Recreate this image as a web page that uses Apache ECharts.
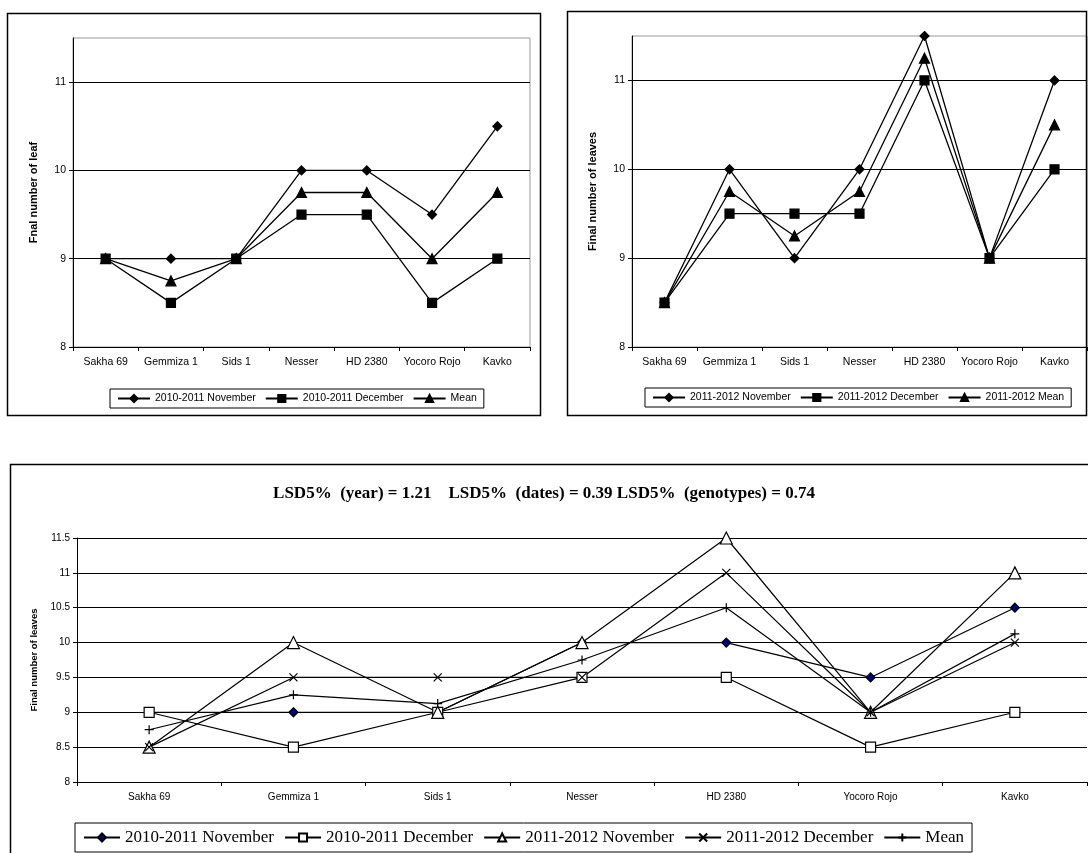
<!DOCTYPE html>
<html>
<head>
<meta charset="utf-8">
<script src="https://cdn.jsdelivr.net/npm/echarts@6/dist/echarts.min.js"></script>
<style>
html,body{margin:0;padding:0;background:#fff;}
#wrap{position:relative;width:1088px;height:853px;overflow:hidden;background:#fff;}
.c{position:absolute;left:0;top:0;width:1088px;height:853px;}
</style>
</head>
<body>
<div id="wrap">
  <div class="c" id="c1"></div>
  <div class="c" id="c2"></div>
  <div class="c" id="c3"></div>
</div>
<script>
// ---- data ----
const categories = ['Sakha 69', 'Gemmiza 1', 'Sids 1', 'Nesser', 'HD 2380', 'Yocoro Rojo', 'Kavko'];
const nov1011 = [9, 9, 9, 10, 10, 9.5, 10.5];
const dec1011 = [9, 8.5, 9, 9.5, 9.5, 8.5, 9];
const mean1011 = [9, 8.75, 9, 9.75, 9.75, 9, 9.75];
const nov1112 = [8.5, 10, 9, 10, 11.5, 9, 11];
const dec1112 = [8.5, 9.5, 9.5, 9.5, 11, 9, 10];
const mean1112 = [8.5, 9.75, 9.25, 9.75, 11.25, 9, 10.5];
const meanAll = [8.75, 9.25, 9.125, 9.75, 10.5, 9, 10.125];
const titleTopLeftY = 'Fnal number of leaf';
const titleY = 'Final number of leaves';
const lsdTitle = 'LSD5%  (year) = 1.21    LSD5%  (dates) = 0.39 LSD5%  (genotypes) = 0.74';

const SANS = '"Liberation Sans", Arial, sans-serif';
const SERIF = '"Liberation Serif", "Times New Roman", serif';
const PLUS = 'path://M0,5L10,5M5,0L5,10';
const CROSS = 'path://M0,0L10,10M0,10L10,0';

function xAxisCfg(fs) {
  return {
    type: 'category', data: categories, boundaryGap: true,
    axisLine: {lineStyle: {color: '#000', width: 1}},
    axisTick: {show: true, length: 4, lineStyle: {color: '#000'}},
    axisLabel: {color: '#000', fontSize: fs, fontFamily: SANS, margin: 10, interval: 0}
  };
}
function lineSeries(name, data, symbol, size, fill, border, lw) {
  return {
    type: 'line', name: name, data: data, symbol: symbol, symbolSize: size,
    showAllSymbol: true,
    lineStyle: {color: '#000', width: lw || 1.3},
    itemStyle: {color: fill, borderColor: border || fill, borderWidth: 1.2},
    emphasis: {disabled: true}, animation: false, z: 3
  };
}
function topYAxis(name, gap) {
  return {
    type: 'value', min: 8, max: 11.5, interval: 1,
    name: name, nameLocation: 'middle', nameGap: gap,
    nameTextStyle: {color: '#000', fontSize: 11, fontWeight: 'bold', fontFamily: SANS},
    axisLine: {show: true, lineStyle: {color: '#000'}},
    axisTick: {show: true, length: 4, lineStyle: {color: '#000'}},
    axisLabel: {color: '#000', fontSize: 10.5, fontFamily: SANS, showMaxLabel: false, margin: 7},
    splitLine: {show: true, showMaxLine: false, lineStyle: {color: '#000', width: 1}}
  };
}
function topLegend(left, top, names) {
  return {
    left: left, top: top, itemWidth: 32, itemHeight: 9, itemGap: 9, padding: [4, 7],
    borderColor: '#000', borderWidth: 1, selectedMode: false, width: 480,
    textStyle: {color: '#000', fontSize: 10.5, fontFamily: SANS},
    data: names
  };
}

// ---- top-left chart ----
const opt1 = {
  animation: false,
  graphic: [{type: 'rect', shape: {x: 7.5, y: 13.5, width: 533, height: 402}, style: {fill: 'none', stroke: '#000', lineWidth: 1.5}}],
  grid: {left: 73, top: 38, width: 457, height: 309, show: true, borderColor: '#999', borderWidth: 1, backgroundColor: 'transparent'},
  xAxis: xAxisCfg(10.5),
  yAxis: topYAxis(titleTopLeftY, 34),
  legend: topLegend(110, 389, ['2010-2011 November', '2010-2011 December', 'Mean']),
  series: [
    lineSeries('2010-2011 November', nov1011, 'diamond', 9, '#000'),
    lineSeries('2010-2011 December', dec1011, 'rect', 9, '#000'),
    lineSeries('Mean', mean1011, 'triangle', 10, '#000')
  ]
};

// ---- top-right chart ----
const opt2 = {
  animation: false,
  graphic: [{type: 'rect', shape: {x: 567.5, y: 11.5, width: 519, height: 404}, style: {fill: 'none', stroke: '#000', lineWidth: 1.5}}],
  grid: {left: 632, top: 36, width: 455, height: 311, show: true, borderColor: '#999', borderWidth: 1, backgroundColor: 'transparent'},
  xAxis: xAxisCfg(10.5),
  yAxis: topYAxis(titleY, 34),
  legend: topLegend(645, 388, ['2011-2012 November', '2011-2012 December', '2011-2012 Mean']),
  series: [
    lineSeries('2011-2012 November', nov1112, 'diamond', 9, '#000'),
    lineSeries('2011-2012 December', dec1112, 'rect', 9, '#000'),
    lineSeries('2011-2012 Mean', mean1112, 'triangle', 10, '#000')
  ]
};

// ---- bottom chart ----
const opt3 = {
  animation: false,
  title: {text: lsdTitle, left: 'center', top: 480,
    textStyle: {color: '#000', fontSize: 17, fontWeight: 'bold', fontFamily: SERIF}},
  graphic: [{type: 'rect', shape: {x: 10.5, y: 464.5, width: 1100, height: 420}, style: {fill: 'none', stroke: '#000', lineWidth: 1.5}}],
  grid: {left: 77, top: 538, width: 1010, height: 244, show: false},
  xAxis: xAxisCfg(10),
  yAxis: {
    type: 'value', min: 8, max: 11.5, interval: 0.5,
    name: titleY, nameLocation: 'middle', nameGap: 36,
    nameTextStyle: {color: '#000', fontSize: 9.5, fontWeight: 'bold', fontFamily: SANS},
    axisLine: {show: true, lineStyle: {color: '#000'}},
    axisTick: {show: true, length: 4, lineStyle: {color: '#000'}},
    axisLabel: {color: '#000', fontSize: 10, fontFamily: SANS, margin: 7},
    splitLine: {show: true, lineStyle: {color: '#000', width: 1}}
  },
  legend: {
    left: 75, top: 823, itemWidth: 36, itemHeight: 10, itemGap: 10, padding: [6, 8],
    borderColor: '#000', borderWidth: 1, selectedMode: false, width: 1000,
    textStyle: {color: '#000', fontSize: 17, fontFamily: SERIF},
    data: ['2010-2011 November', '2010-2011 December', '2011-2012 November', '2011-2012 December', 'Mean']
  },
  series: [
    lineSeries('2010-2011 November', nov1011, 'diamond', 9, '#000080', '#000', 1.2),
    lineSeries('2010-2011 December', dec1011, 'rect', 10, '#fff', '#000', 1.2),
    lineSeries('2011-2012 November', nov1112, 'triangle', 12, '#fff', '#000', 1.2),
    lineSeries('2011-2012 December', dec1112, CROSS, 8, 'none', '#000', 1.2),
    lineSeries('Mean', meanAll, PLUS, 9, 'none', '#000', 1.2)
  ]
};

[['c1', opt1], ['c2', opt2], ['c3', opt3]].forEach(function (p) {
  const ch = echarts.init(document.getElementById(p[0]), null, {renderer: 'canvas'});
  ch.setOption(p[1]);
});
</script>
</body>
</html>
